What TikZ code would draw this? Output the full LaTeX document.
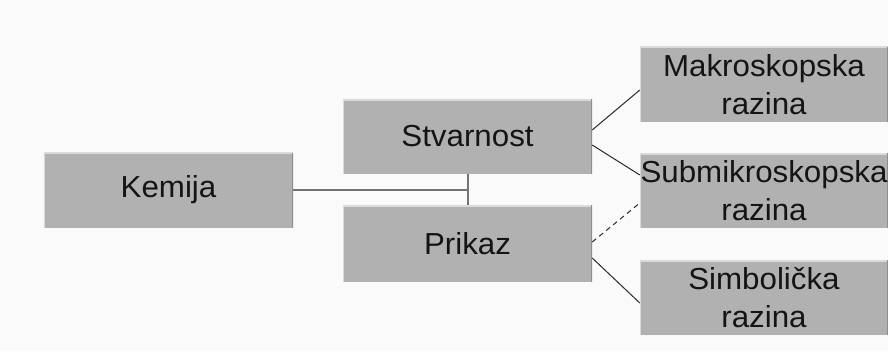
\documentclass[tikz,border=0pt]{standalone}
\usepackage{fontspec}
\setmainfont{Liberation Sans}[FakeStretch=1.03]
\usetikzlibrary{shapes, arrows}
\definecolor{boxgray}{HTML}{B1B1B1}
\definecolor{bevel}{HTML}{DADADA}
\definecolor{wire}{HTML}{2A2A2A}
\tikzstyle{level} = [rectangle, minimum width=249bp, minimum height=75bp, text centered, fill=boxgray, text=black!92, font=\fontsize{30.5}{38}\selectfont, align=center, inner sep=0pt,
  path picture={\draw[bevel, line width=3bp] (path picture bounding box.north west) -- (path picture bounding box.north east);
                \draw[bevel, line width=1.5bp] (path picture bounding box.north west) -- (path picture bounding box.south west);
                \draw[boxgray!80!black, line width=1.5bp] (path picture bounding box.north east) -- (path picture bounding box.south east);}]
\tikzstyle{line} = [draw, wire, line width=1bp]
\tikzstyle{trunk} = [draw, gray!90!black, line width=2bp]

\begin{document}
\begin{tikzpicture}[x=1bp, y=1bp]
            \useasboundingbox[fill=black!2] (0,0) rectangle (888,351);

            % Nodes
            \node (kem) [level] at (168.5,161) {Kemija};
            \node (stv) [level] at (467.5,214.5) {Stvarnost};
            \node (pri) [level, minimum height=77bp] at (467.5,107.5) {Prikaz};
            \node (mak) [level, minimum width=248bp] at (764,266.5) {Makroskopska\\razina};
            \node (sub) [level, minimum width=248bp] at (764,160.5) {Submikroskopska\\razina};
            \node (sim) [level, minimum width=248bp] at (764,53.5) {Simbolička\\razina};

            % Draw lines
            \path [trunk] (kem.east) -- (kem.east -| stv.south);
            \path [trunk] (stv.south) -- (pri.north);
            \path [line] ([yshift=6.5bp] stv.east) -- ([yshift=-5.5bp] mak.west);
            \path [line] ([yshift=-8.5bp] stv.east) -- ([yshift=15.5bp] sub.west);
            \path [line, dash pattern=on 5bp off 4bp] ([yshift=1.5bp] pri.east) -- ([yshift=-12.5bp] sub.west);
            \path [line] ([yshift=-14.5bp] pri.east) -- ([yshift=-5.5bp] sim.west);
\end{tikzpicture}
\end{document}
